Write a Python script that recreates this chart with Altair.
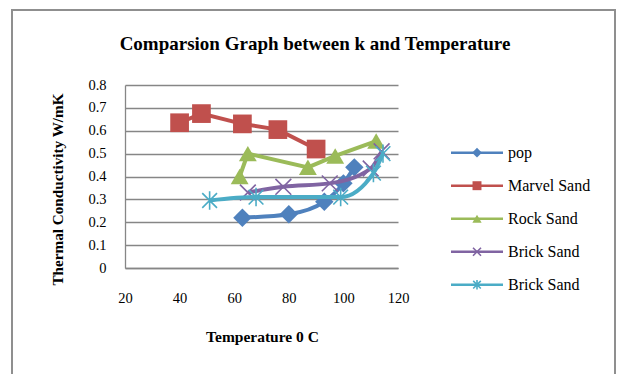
import altair as alt
import pandas as pd

title_text = "Comparsion Graph between k and Temperature"
x_title = "Temperature 0 C"
y_title = "Thermal Conductivity W/mK"

series_names = ["pop", "Marvel Sand", "Rock Sand", "Brick Sand", "Brick Sand"]

pop_x = [63, 80, 93, 100, 104]
pop_y = [0.22, 0.235, 0.29, 0.37, 0.44]
marvel_x = [40, 48, 63, 76, 90]
marvel_y = [0.635, 0.675, 0.63, 0.605, 0.52]
rock_x = [62, 65, 87, 97, 112]
rock_y = [0.40, 0.50, 0.44, 0.49, 0.555]
brick1_x = [65, 78, 95, 110, 114]
brick1_y = [0.33, 0.355, 0.37, 0.435, 0.51]
brick2_x = [51, 68, 99, 111, 114.5]
brick2_y = [0.295, 0.31, 0.31, 0.415, 0.5]

x_ticks = [20, 40, 60, 80, 100, 120]
y_ticks = [0, 0.1, 0.2, 0.3, 0.4, 0.5, 0.6, 0.7, 0.8]

xs = [pop_x, marvel_x, rock_x, brick1_x, brick2_x]
ys = [pop_y, marvel_y, rock_y, brick1_y, brick2_y]

colors = ["#4F81BD", "#C0504D", "#9BBB59", "#8064A2", "#4BACC6"]
X_PATH = "M-1,-1L1,1M-1,1L1,-1"
STAR_PATH = "M0,-1L0,1M-0.8,-0.8L0.8,0.8M-0.8,0.8L0.8,-0.8"
shapes = ["diamond", "square", "triangle-up", X_PATH, STAR_PATH]
filled = [True, True, True, False, False]
sizes = [340, 350, 320, 250, 340]
legend_sizes = [95, 80, 85, 64, 90]
interp = ["monotone", "linear", "linear", "monotone", "monotone"]

FONT = "'Liberation Serif', 'Times New Roman', Times, serif"
GRID = "#868686"

x_enc = alt.X(
    "x:Q",
    scale=alt.Scale(domain=[20, 120], nice=False, zero=False),
    axis=alt.Axis(
        values=x_ticks, title=x_title, grid=False, ticks=False, tickSize=0,
        labelFlush=False, labelOverlap=False,
        labelPadding=23, labelFont=FONT, labelFontSize=14.5, labelColor="black",
        domainColor=GRID, domainWidth=1.3,
        titleFont=FONT, titleFontSize=15.5, titleFontWeight="bold", titleColor="black",
        titleX=137, titleY=68, titleBaseline="middle", titleAlign="center",
    ),
)
y_enc = alt.Y(
    "y:Q",
    scale=alt.Scale(domain=[0, 0.8], nice=False, zero=True),
    axis=alt.Axis(
        values=y_ticks, format="~g", title=y_title, grid=True, gridColor=GRID, gridWidth=1.3,
        labelFlush=False, labelOverlap=False,
        ticks=False, tickSize=0, labelPadding=19, labelFont=FONT, labelFontSize=14.5,
        labelColor="black", domainColor=GRID, domainWidth=1.3,
        titleFont=FONT, titleFontSize=15.2, titleFontWeight="bold", titleColor="black",
        titleX=-68, titleY=104, titleBaseline="middle", titleAlign="center", titleAngle=270,
    ),
)

one = alt.Data(values=[{"a": 1}])

layers = []
# outer frame
layers.append(
    alt.Chart(one).mark_rect(fill="transparent", stroke="#8f8f8f", strokeWidth=2).encode(
        x=alt.value(-113), x2=alt.value(490), y=alt.value(-75), y2=alt.value(300)
    )
)

for i in range(5):
    df = pd.DataFrame({"x": xs[i], "y": ys[i]})
    base = alt.Chart(df)
    layers.append(
        base.mark_line(color=colors[i], strokeWidth=4, interpolate=interp[i]).encode(x=x_enc, y=y_enc)
    )
    pt_kwargs = dict(shape=shapes[i], size=sizes[i], color=colors[i], opacity=1, filled=filled[i])
    if not filled[i]:
        pt_kwargs["strokeWidth"] = 1.6
    layers.append(base.mark_point(**pt_kwargs).encode(x=x_enc, y=y_enc))

# manual legend
for i, name in enumerate(series_names):
    yy = 67.7 + 33 * i
    layers.append(
        alt.Chart(one).mark_rule(color=colors[i], strokeWidth=2.5).encode(
            x=alt.value(326), x2=alt.value(378), y=alt.value(yy)
        )
    )
    lk = dict(shape=shapes[i], size=legend_sizes[i], color=colors[i], opacity=1, filled=filled[i])
    if not filled[i]:
        lk["strokeWidth"] = 1.6
    layers.append(alt.Chart(one).mark_point(**lk).encode(x=alt.value(352), y=alt.value(yy)))
    layers.append(
        alt.Chart(one).mark_text(align="left", baseline="middle", font=FONT, fontSize=16, color="black").encode(
            x=alt.value(383), y=alt.value(yy), text=alt.value(name)
        )
    )

# chart title
layers.append(
    alt.Chart(one).mark_text(align="center", baseline="middle", font=FONT, fontSize=19,
                             fontWeight="bold", color="black").encode(
        x=alt.value(190), y=alt.value(-41), text=alt.value(title_text)
    )
)

chart = alt.layer(*layers).properties(
    width=273, height=183,
    autosize=alt.AutoSizeParams(type="none"),
    padding={"left": 125, "top": 85, "right": 224, "bottom": 106},
    background="white",
).configure_view(stroke="transparent")

chart.save("out.html", embed_options={"renderer": "svg", "actions": False})
